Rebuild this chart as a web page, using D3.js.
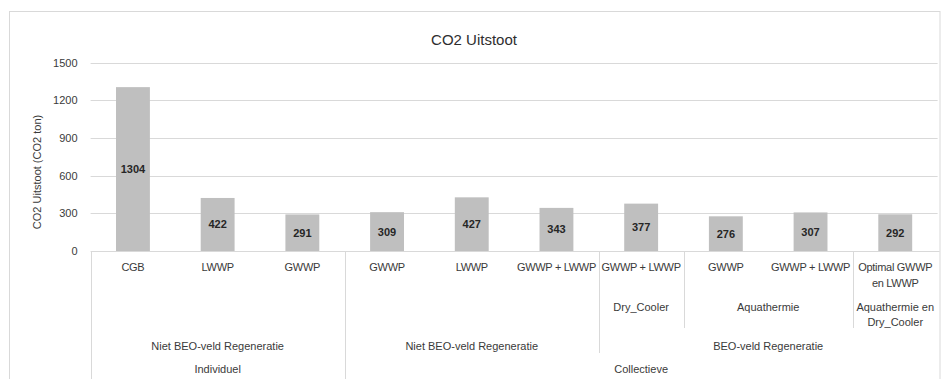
<!DOCTYPE html>
<html>
<head>
<meta charset="utf-8">
<script src="https://cdn.jsdelivr.net/npm/d3@7"></script>
<style>
  html, body { margin: 0; padding: 0; background: #fff; }
  svg { display: block; font-family: "Liberation Sans", Arial, sans-serif; }
</style>
</head>
<body>
<svg id="chart" width="942" height="379"></svg>
<script>
// ---- data ----
const categories = ["CGB", "LWWP", "GWWP", "GWWP", "LWWP", "GWWP + LWWP", "GWWP + LWWP", "GWWP", "GWWP + LWWP", "Optimal GWWP\nen LWWP"];
const values = [1304, 422, 291, 309, 427, 343, 377, 276, 307, 292];
const level2 = ["", "", "", "", "", "", "Dry_Cooler", "Aquathermie", "Aquathermie", "Aquathermie en\nDry_Cooler"];
const level3 = ["Niet BEO-veld Regeneratie", "Niet BEO-veld Regeneratie", "Niet BEO-veld Regeneratie",
                "Niet BEO-veld Regeneratie", "Niet BEO-veld Regeneratie", "Niet BEO-veld Regeneratie",
                "BEO-veld Regeneratie", "BEO-veld Regeneratie", "BEO-veld Regeneratie", "BEO-veld Regeneratie"];
const level4 = ["Individuel", "Individuel", "Individuel", "Collectieve", "Collectieve", "Collectieve",
                "Collectieve", "Collectieve", "Collectieve", "Collectieve"];
const yTicks = [0, 300, 600, 900, 1200, 1500];
const chartTitle = "CO2 Uitstoot";
const yTitle = "CO2 Uitstoot (CO2 ton)";

// ---- layout ----
const svg = d3.select("#chart");
const W = 942, H = 379;
const plotL = 90.6, plotR = 937.6, plotT = 62.5, plotB = 251;
const gridColor = "#d9d9d9";
const textColor = "#3a3a3a";

// chart border
svg.append("rect").attr("x", 9.5).attr("y", 11.5).attr("width", 930.5).attr("height", 400)
  .attr("fill", "#fff").attr("stroke", gridColor).attr("stroke-width", 1);

const x = d3.scaleBand().domain(d3.range(categories.length)).range([plotL, plotR])
  .paddingInner(0.6).paddingOuter(0.3);
const y = d3.scaleLinear().domain([0, 1500]).range([plotB, plotT]);

// gridlines
svg.append("g").selectAll("line").data(yTicks.filter(d => d > 0)).join("line")
  .attr("x1", plotL).attr("x2", plotR)
  .attr("y1", d => Math.round(y(d)) + 0.5).attr("y2", d => Math.round(y(d)) + 0.5)
  .attr("stroke", gridColor).attr("stroke-width", 1);

// y axis labels via d3 axis
const yAxis = svg.append("g").attr("transform", `translate(${plotL - 13},0)`)
  .call(d3.axisLeft(y).tickValues(yTicks).tickFormat(d3.format("d")).tickSize(0).tickPadding(0));
yAxis.select(".domain").remove();
yAxis.selectAll("text").attr("fill", textColor).style("font-size", "11px")
  .style("font-family", "'Liberation Sans', Arial, sans-serif");

// bars
svg.append("g").selectAll("rect").data(values).join("rect")
  .attr("x", (d, i) => x(i)).attr("width", x.bandwidth())
  .attr("y", d => y(d)).attr("height", d => y(0) - y(d))
  .attr("fill", "#bfbfbf");

// bar labels (inside, centered)
svg.append("g").selectAll("text").data(values).join("text")
  .attr("x", (d, i) => x(i) + x.bandwidth() / 2)
  .attr("y", d => (y(d) + y(0)) / 2 + 4)
  .attr("text-anchor", "middle")
  .attr("font-size", "11px").attr("font-weight", "bold").attr("fill", "#262626")
  .text(d => d);

// ---- multi-level category axis ----
const step = x.step();
const edge = i => plotL + i * step;  // boundary left of category i
const axisG = svg.append("g");

// top line of axis table
axisG.append("line").attr("x1", plotL).attr("x2", plotR + 2)
  .attr("y1", Math.round(plotB) + 0.5).attr("y2", Math.round(plotB) + 0.5)
  .attr("stroke", gridColor);

// boundary lines: height depends on highest level changing
const rowBottom = { 2: 328, 3: 353, 4: H + 2 };
const bounds = [{ i: 0, lvl: 4 }];
for (let i = 1; i < categories.length; i++) {
  let lvl = 0;
  if (level4[i] !== level4[i - 1]) lvl = 4;
  else if (level3[i] !== level3[i - 1]) lvl = 3;
  else if (level2[i] !== level2[i - 1] && level2[i] && level2[i - 1]) lvl = 2;
  if (lvl) bounds.push({ i, lvl });
}
axisG.selectAll("line.b").data(bounds).join("line").attr("class", "b")
  .attr("x1", d => Math.round(edge(d.i)) + 0.5).attr("x2", d => Math.round(edge(d.i)) + 0.5)
  .attr("y1", plotB).attr("y2", d => rowBottom[d.lvl])
  .attr("stroke", gridColor);

function multiText(sel, str, cx, cy, lineH, ls) {
  const lines = str.split("\n");
  lines.forEach((ln, k) => {
    sel.append("text").attr("x", cx).attr("y", cy + k * lineH + 4)
      .attr("text-anchor", "middle").attr("font-size", "11px").attr("fill", textColor)
      .attr("letter-spacing", ls || 0)
      .text(ln);
  });
}

// level 1 labels
categories.forEach((c, i) => multiText(axisG, c, x(i) + x.bandwidth() / 2, 267, 15.5, "-0.3px"));

// group runs helper
function runs(arr, parents) {
  const out = [];
  let start = 0;
  for (let i = 1; i <= arr.length; i++) {
    const brk = i === arr.length || arr[i] !== arr[start] || parents.some(p => p[i] !== p[start]);
    if (brk) { out.push({ label: arr[start], s: start, e: i }); start = i; }
  }
  return out;
}
runs(level2, [level3, level4]).filter(r => r.label).forEach(r =>
  multiText(axisG, r.label, (edge(r.s) + edge(r.e)) / 2, 307, 15));
runs(level3, [level4]).forEach(r =>
  multiText(axisG, r.label, (edge(r.s) + edge(r.e)) / 2, 346, 15));
runs(level4, []).forEach(r =>
  multiText(axisG, r.label, (edge(r.s) + edge(r.e)) / 2, 369, 15));

// titles
svg.append("text").attr("x", 474).attr("y", 45).attr("text-anchor", "middle")
  .attr("font-size", "15px").attr("fill", "#2e2e2e").text(chartTitle);
svg.append("text").attr("transform", "translate(41,172) rotate(-90)")
  .attr("text-anchor", "middle").attr("font-size", "11px").attr("fill", textColor)
  .text(yTitle);
</script>
</body>
</html>
